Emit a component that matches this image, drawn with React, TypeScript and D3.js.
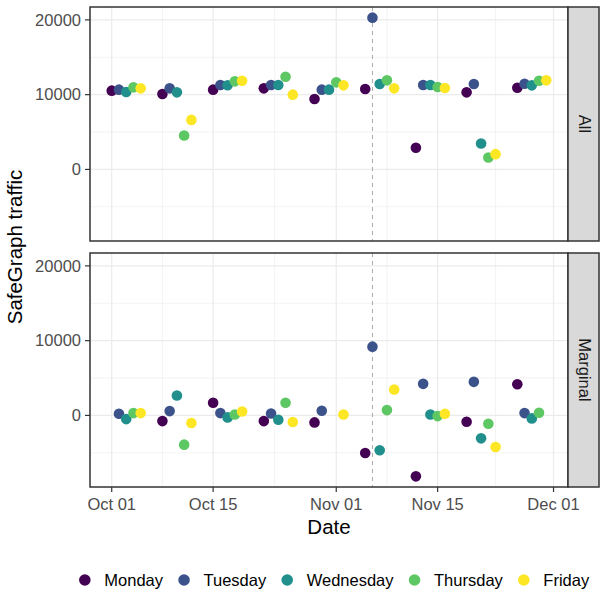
import * as d3 from "d3";

// Mondays of each week (2018)
const weeks = ["2018-10-01", "2018-10-08", "2018-10-15", "2018-10-22", "2018-10-29", "2018-11-05", "2018-11-12", "2018-11-19", "2018-11-26"];
const weekdays = ["Monday", "Tuesday", "Wednesday", "Thursday", "Friday"];
const panels = ["All", "Marginal"];
const electionDay = "2018-11-06";
const xTicks = ["2018-10-01", "2018-10-15", "2018-11-01", "2018-11-15", "2018-12-01"];
const yTicks = [0, 10000, 20000];

// "All" panel, one array per weekday, one value per week
const allMonday = [10533, 10089, 10667, 10844, 9422, 10756, 2889, 10311, 10933];
const allTuesday = [10667, 10844, 11289, 11289, 10667, 20300, 11289, 11422, 11467];
const allWednesday = [10356, 10311, 11250, 11289, 10667, 11422, 11289, 3467, 11244];
const allThursday = [10978, 4533, 11778, 12400, 11644, 11911, 11022, 1600, 11867];
const allFriday = [10844, 6622, 11867, 10000, 11244, 10844, 10889, 2044, 11911];

// "Marginal" panel
const margMonday = [null, -756, 1689, -756, -933, -5022, -8150, -844, 4178];
const margTuesday = [222, 578, 311, 267, 622, 9200, 4222, 4489, 311];
const margWednesday = [-489, 2667, -267, -578, null, -4667, 133, -3067, -400];
const margThursday = [311, -3911, 133, 1689, null, 711, -89, -1111, 356];
const margFriday = [311, -1022, 533, -889, 133, 3467, 222, -4222, null];

const colors = ["#440154", "#3B528B", "#21908C", "#5DC863", "#FDE725"];

const series: Record<string, (number | null)[][]> = {
  All: [allMonday, allTuesday, allWednesday, allThursday, allFriday],
  Marginal: [margMonday, margTuesday, margWednesday, margThursday, margFriday],
};

const parse = (s: string) => new Date(s + "T00:00:00Z");
const FONT = "'Liberation Sans', Arial, sans-serif";

type Pt = { panel: string; date: Date; value: number; day: number };

const points: Pt[] = [];
panels.forEach((p) => {
  series[p].forEach((vals, di) => {
    vals.forEach((v, wi) => {
      if (v === null) return;
      points.push({ panel: p, date: d3.utcDay.offset(parse(weeks[wi]), di), value: v, day: di });
    });
  });
});

const left = 90;
const right = 568;
const stripW = 31;
const panelTops = [7, 253];
const panelH = 234;

function expand([a, b]: [number, number], f = 0.05): [number, number] {
  const w = b - a;
  return [a - w * f, b + w * f];
}

export default function App() {
  const xExt = d3.extent(points, (d) => +d.date) as [number, number];
  const x = d3.scaleUtc().domain(expand(xExt).map((t) => new Date(t))).range([left, right]);
  const yExt = d3.extent(points, (d) => d.value) as [number, number];
  const yDom = expand(yExt);

  const majorX = xTicks.map(parse);
  const minorX = majorX.slice(0, -1).map((d, i) => new Date((+d + +majorX[i + 1]) / 2));
  const minorY = [-5000, 5000, 15000];

  // legend layout by measured text widths
  const ctx = document.createElement("canvas").getContext("2d")!;
  ctx.font = `16.5px ${FONT}`;
  const widths = weekdays.map((w) => ctx.measureText(w).width);
  const dotToText = 19.5;
  const gap = 21;
  const total = widths.reduce((s, w) => s + w + dotToText + gap, 0) - gap;
  let cursor = 331 - total / 2 + 6;
  const legendX = widths.map((w) => {
    const cx = cursor;
    cursor += dotToText + w + gap;
    return cx;
  });

  return (
    <svg width={600} height={594} style={{ position: "absolute", left: 0, top: 0, background: "#fff" }} fontFamily={FONT}>
      {panels.map((p, pi) => {
        const top = panelTops[pi];
        const y = d3.scaleLinear().domain(yDom).range([top + panelH, top]);
        const pts = points.filter((d) => d.panel === p);
        return (
          <g key={p}>
            <rect x={left} y={top} width={right - left} height={panelH} fill="#fff" />
            {minorY.map((v) => (
              <line key={"my" + v} x1={left} x2={right} y1={y(v)} y2={y(v)} stroke="#EBEBEB" strokeWidth={0.6} />
            ))}
            {minorX.map((d, i) => (
              <line key={"mx" + i} x1={x(d)} x2={x(d)} y1={top} y2={top + panelH} stroke="#EBEBEB" strokeWidth={0.6} />
            ))}
            {yTicks.map((v) => (
              <line key={"gy" + v} x1={left} x2={right} y1={y(v)} y2={y(v)} stroke="#EBEBEB" strokeWidth={1.2} />
            ))}
            {majorX.map((d, i) => (
              <line key={"gx" + i} x1={x(d)} x2={x(d)} y1={top} y2={top + panelH} stroke="#EBEBEB" strokeWidth={1.2} />
            ))}
            <line
              x1={x(parse(electionDay))}
              x2={x(parse(electionDay))}
              y1={top}
              y2={top + panelH}
              stroke="#ABABAB"
              strokeWidth={1}
              strokeDasharray="4 4"
            />
            {pts.map((d, i) => (
              <circle key={i} cx={x(d.date)} cy={y(d.value)} r={5.3} fill={colors[d.day]} />
            ))}
            <rect x={left} y={top} width={right - left} height={panelH} fill="none" stroke="#333333" strokeWidth={1.5} />
            {/* strip */}
            <rect x={right} y={top} width={stripW} height={panelH} fill="#D9D9D9" stroke="#333333" strokeWidth={1.5} />
            <text
              transform={`translate(${right + stripW / 2 + 1},${top + panelH / 2}) rotate(90)`}
              textAnchor="middle"
              dy="0.35em"
              fontSize={16.5}
              fill="#1A1A1A"
            >
              {p}
            </text>
            {/* y axis */}
            {yTicks.map((v) => (
              <g key={"yt" + v}>
                <line x1={left - 5} x2={left} y1={y(v)} y2={y(v)} stroke="#333333" strokeWidth={1.2} />
                <text x={left - 9} y={y(v)} dy="0.35em" textAnchor="end" fontSize={16.5} fill="#4D4D4D">
                  {d3.format("d")(v)}
                </text>
              </g>
            ))}
          </g>
        );
      })}
      {/* x axis */}
      {majorX.map((d, i) => (
        <g key={"xt" + i}>
          <line x1={x(d)} x2={x(d)} y1={487} y2={492} stroke="#333333" strokeWidth={1.2} />
          <text x={x(d)} y={510} textAnchor="middle" fontSize={16.5} fill="#4D4D4D">
            {d3.utcFormat("%b %d")(d)}
          </text>
        </g>
      ))}
      <text x={(left + right) / 2} y={534} textAnchor="middle" fontSize={20.5} fill="#000">
        Date
      </text>
      <text
        transform={`translate(22,${(panelTops[0] + panelTops[1] + panelH) / 2}) rotate(-90)`}
        textAnchor="middle"
        fontSize={20.5}
        fill="#000"
      >
        SafeGraph traffic
      </text>
      {/* legend */}
      {weekdays.map((w, i) => (
        <g key={w}>
          <circle cx={legendX[i]} cy={580} r={5.8} fill={colors[i]} />
          <text x={legendX[i] + dotToText} y={580} dy="0.35em" fontSize={16.5} fill="#000">
            {w}
          </text>
        </g>
      ))}
    </svg>
  );
}
